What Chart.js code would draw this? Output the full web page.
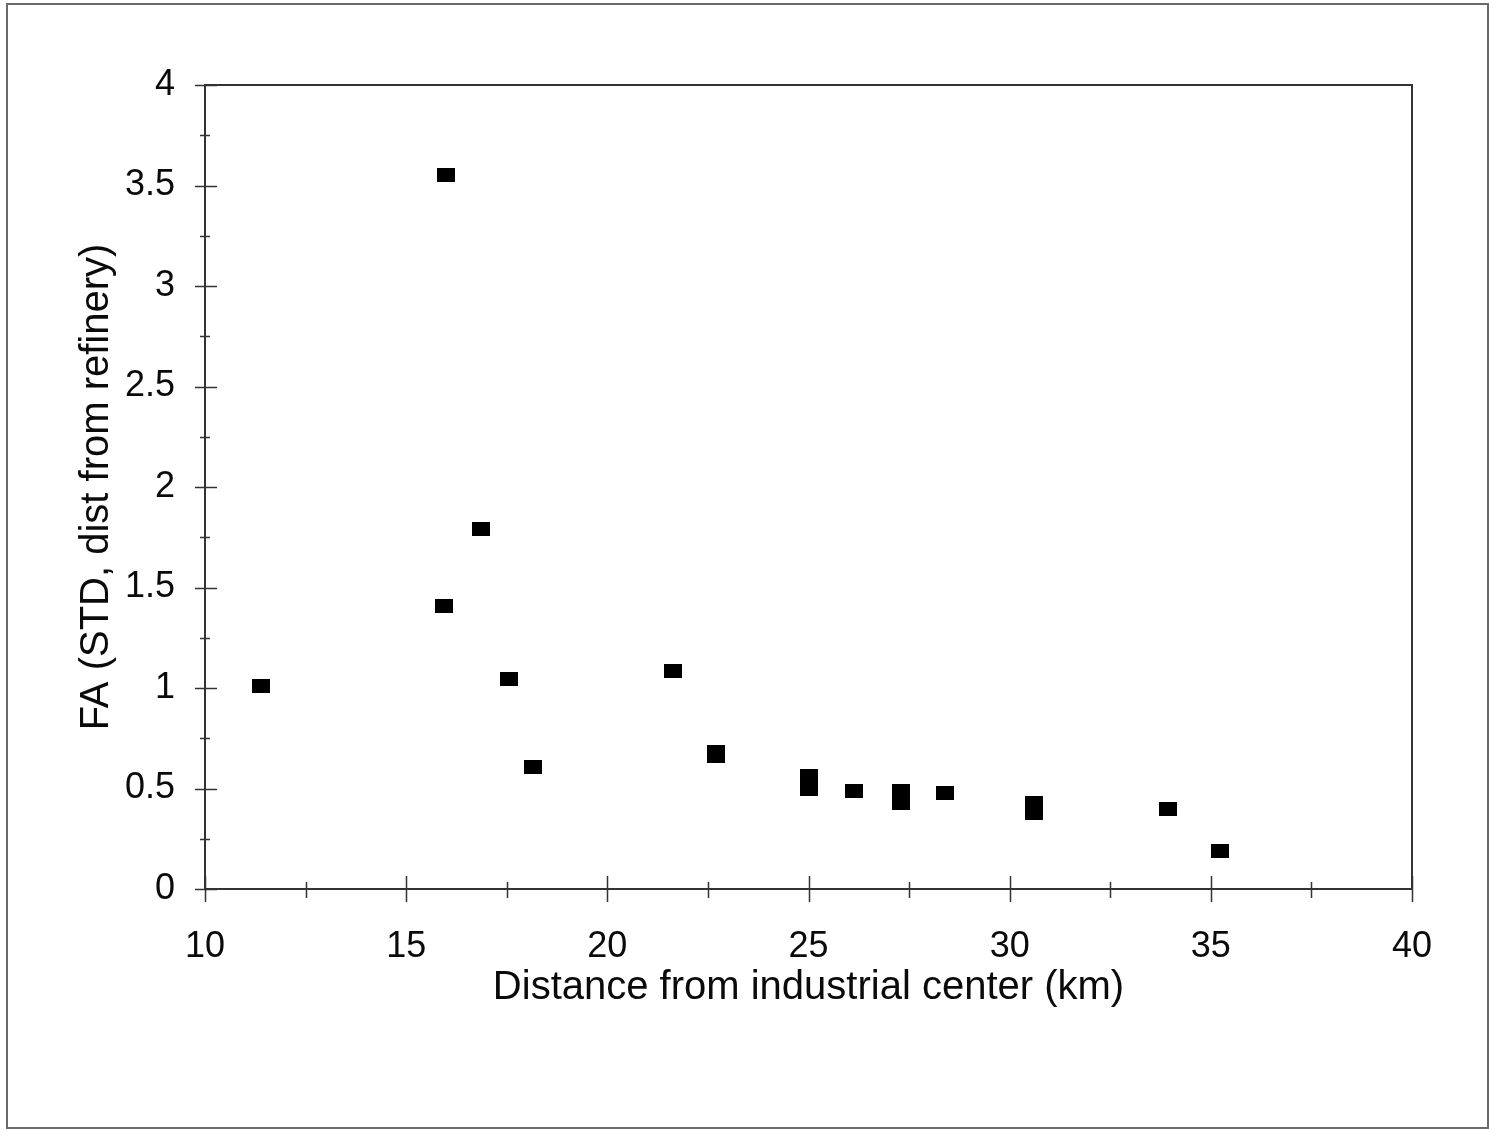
<!DOCTYPE html>
<html>
<head>
<meta charset="utf-8">
<script src="https://cdn.jsdelivr.net/npm/chart.js@4.4.1/dist/chart.umd.min.js"></script>
<style>
  html, body { margin: 0; padding: 0; background: #fff; }
  #wrap { position: relative; width: 1489px; height: 1130px; overflow: hidden; }
  #frame { position: absolute; left: 6px; top: 3px; width: 1479px; height: 1122px; border: 2px solid #6a6a6a; }
  canvas { position: absolute; left: 0; top: 0; }
</style>
</head>
<body>
<div id="wrap">
  <div id="frame"></div>
  <canvas id="chart" width="1489" height="1130"></canvas>
</div>
<script>
// Данные
const distanceKm = [11.39, 15.98, 15.93, 16.85, 17.55, 18.15, 21.62, 22.71, 22.71, 25.0, 25.0, 26.12, 27.31, 27.31, 28.4, 30.6, 30.6, 33.94, 35.23];
const faStd      = [1.01, 3.55, 1.41, 1.79, 1.045, 0.607, 1.085, 0.68, 0.66, 0.56, 0.50, 0.49, 0.49, 0.43, 0.48, 0.43, 0.38, 0.40, 0.19];

const xTickLabels = [10, 15, 20, 25, 30, 35, 40];
const yTickLabels = [0, 0.5, 1, 1.5, 2, 2.5, 3, 3.5, 4];

const FONT = "'Liberation Sans', Arial, sans-serif";
const INK = '#0a0a0a';

// Маркер - чёрный прямоугольник, как в оригинале
const marker = document.createElement('canvas');
marker.width = 18;
marker.height = 14;
const mctx = marker.getContext('2d');
mctx.fillStyle = '#000';
mctx.fillRect(0, 0, 18, 14);

// Рамка графика и засечки, пересекающие оси
const axisBox = {
  id: 'axisBox',
  afterDraw(chart) {
    const { ctx, chartArea: a, scales: { x, y } } = chart;
    ctx.save();
    ctx.strokeStyle = '#333';
    ctx.lineWidth = 2;
    ctx.strokeRect(a.left, a.top, a.right - a.left, a.bottom - a.top);

    ctx.lineWidth = 1.5;
    ctx.beginPath();
    x.ticks.forEach((t) => {
      const px = Math.round(x.getPixelForValue(t.value)) + 0.5;
      const major = xTickLabels.includes(t.value);
      ctx.moveTo(px, a.bottom - (major ? 13 : 7));
      ctx.lineTo(px, a.bottom + (major ? 13 : 9));
    });
    y.ticks.forEach((t) => {
      const py = Math.round(y.getPixelForValue(t.value)) + 0.5;
      const major = yTickLabels.includes(t.value);
      ctx.moveTo(a.left - (major ? 10 : 5), py);
      ctx.lineTo(a.left + (major ? 12 : 5), py);
    });
    ctx.stroke();
    ctx.restore();
  },
};

new Chart(document.getElementById('chart').getContext('2d'), {
  type: 'scatter',
  data: {
    datasets: [
      {
        data: distanceKm.map((d, i) => ({ x: d, y: faStd[i] })),
        pointStyle: marker,
        backgroundColor: '#000',
        borderColor: '#000',
      },
    ],
  },
  options: {
    responsive: false,
    animation: false,
    layout: { padding: { top: 85, right: 77, left: 0, bottom: 0 } },
    plugins: {
      legend: { display: false },
      tooltip: { enabled: false },
    },
    scales: {
      x: {
        type: 'linear',
        min: 10,
        max: 40,
        afterFit: (s) => { s.height = 241; },
        grid: { display: false },
        border: { display: false },
        ticks: {
          stepSize: 2.5,
          autoSkip: false,
          maxRotation: 0,
          padding: 28,
          color: INK,
          font: { family: FONT, size: 36 },
          callback: (v) => (xTickLabels.includes(v) ? String(v) : ''),
        },
        title: {
          display: true,
          text: 'Distance from industrial center (km)',
          color: INK,
          font: { family: FONT, size: 40 },
          padding: { top: 0, bottom: 118 },
        },
      },
      y: {
        min: 0,
        max: 4,
        afterFit: (s) => { s.width = 205; },
        grid: { display: false },
        border: { display: false },
        ticks: {
          stepSize: 0.25,
          autoSkip: false,
          padding: 22,
          color: INK,
          font: { family: FONT, size: 36 },
          callback: (v) => (yTickLabels.includes(v) ? String(v) : ''),
        },
        title: {
          display: true,
          text: 'FA (STD, dist from refinery)',
          color: INK,
          font: { family: FONT, size: 40 },
          padding: { top: 73, bottom: 0 },
        },
      },
    },
  },
  plugins: [axisBox],
});
</script>
</body>
</html>
